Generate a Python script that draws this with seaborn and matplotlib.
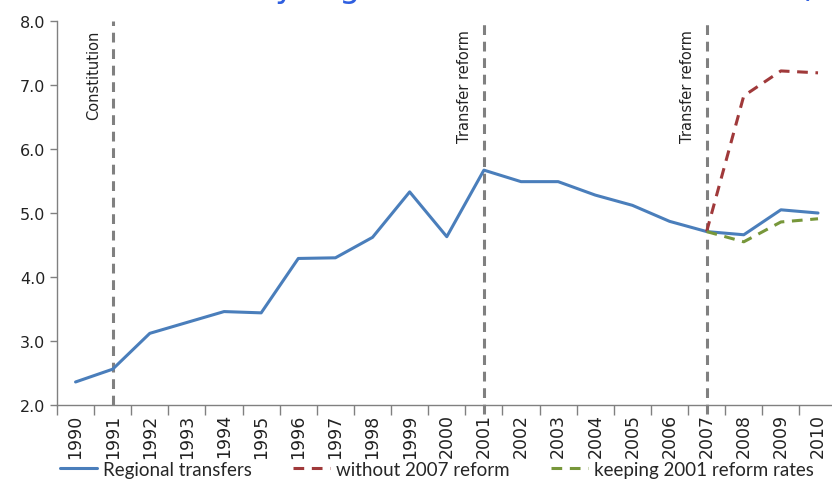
import pandas as pd
import matplotlib
matplotlib.use("Agg")
import matplotlib.pyplot as plt
from matplotlib.lines import Line2D
from matplotlib.ticker import FixedLocator, FormatStrFormatter
import seaborn as sns

sns.set_theme(style="white")
plt.rcParams["font.family"] = ["DejaVu Sans"]

years = list(range(1990, 2011))
regional = [2.36, 2.56, 3.12, 3.29, 3.46, 3.44, 4.29, 4.30, 4.62, 5.33, 4.63,
            5.67, 5.49, 5.49, 5.28, 5.12, 4.87, 4.71, 4.66, 5.05, 5.00]
scen_years = [2007, 2008, 2009, 2010]
without_2007 = [4.71, 6.83, 7.22, 7.19]
keeping_2001 = [4.71, 4.55, 4.86, 4.91]
event_years = [1991, 2001, 2007]
event_labels = ["Constitution", "Transfer reform", "Transfer reform"]

BLUE = "#4a7ebb"
RED = "#a0393a"
GREEN = "#77973a"
GRAY = "#808080"

df = pd.DataFrame({"year": years, "value": regional})
df_red = pd.DataFrame({"year": scen_years, "value": without_2007})
df_green = pd.DataFrame({"year": scen_years, "value": keeping_2001})

fig = plt.figure(figsize=(8.32, 4.89), dpi=100)
ax = fig.add_axes([0.0685, 0.1697, 0.937, 0.7853])

sns.lineplot(data=df, x="year", y="value", ax=ax, color=BLUE, lw=2.2)
sns.lineplot(data=df_red, x="year", y="value", ax=ax, color=RED, lw=2.2,
             linestyle=(0, (3.5, 2.5)))
sns.lineplot(data=df_green, x="year", y="value", ax=ax, color=GREEN, lw=2.2,
             linestyle=(0, (3.5, 2.5)))

# reform markers
for yr, lab in zip(event_years, event_labels):
    y0 = 2.0 if yr == 1991 else 1.86
    ax.plot([yr, yr], [y0, 8.0], color=GRAY, lw=2.2, ls=(0, (3.2, 2.2)),
            clip_on=False, zorder=1)
    ax.text(yr - 0.52, 7.87, lab, rotation=90, ha="center", va="top",
            fontsize=10.5, color="#222222")

ax.set_xlim(1989.5, 2010.5)
ax.set_ylim(2.0, 8.0)
ax.set_xticks(years)
ax.set_xticklabels([str(y) for y in years], rotation=90, fontsize=12.5)
ax.xaxis.set_minor_locator(FixedLocator([y - 0.5 for y in years] + [2010.5]))
ax.tick_params(axis="x", which="major", length=0, pad=6, labelcolor="#222222")
ax.tick_params(axis="x", which="minor", length=7, width=1, color=GRAY, bottom=True)
ax.set_yticks([2, 3, 4, 5, 6, 7, 8])
ax.yaxis.set_major_formatter(FormatStrFormatter("%.1f"))
ax.tick_params(axis="y", length=5, width=1, color=GRAY, left=True, labelsize=11.5,
               labelcolor="#222222")
ax.set_xlabel("")
ax.set_ylabel("")
for side in ["top", "right"]:
    ax.spines[side].set_visible(False)
for side in ["left", "bottom"]:
    ax.spines[side].set_color(GRAY)
    ax.spines[side].set_linewidth(1)

handles = [
    Line2D([], [], color=BLUE, lw=2.2),
    Line2D([], [], color=RED, lw=2.2, ls=(0, (3.5, 2.5))),
    Line2D([], [], color=GREEN, lw=2.2, ls=(0, (3.5, 2.5))),
]
fig.legend(handles, ["Regional transfers", "without 2007 reform", "keeping 2001 reform rates"],
           loc="center", bbox_to_anchor=(0.525, 0.038), ncol=3, frameon=False,
           handlelength=2.0, handletextpad=0.3, columnspacing=2.2,
           prop={"family": ["Lato"], "size": 13.5})

# title, cut off at the top edge as in the original slide
fig.text(0.976, 1.006, "Transfers received by region as a share of the total (",
         ha="right", va="baseline", fontsize=24, color="#2f5fe0")

fig.savefig("out.png", dpi=100)
